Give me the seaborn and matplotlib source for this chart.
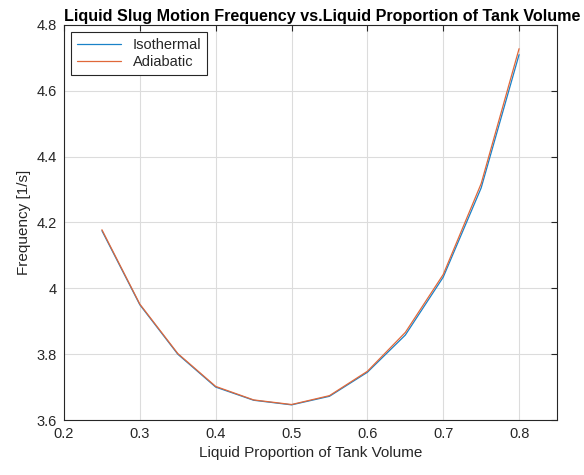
import numpy as np
import pandas as pd
import matplotlib
matplotlib.use("Agg")
import matplotlib.pyplot as plt
import seaborn as sns

liquid_prop = [0.25, 0.30, 0.35, 0.40, 0.45, 0.50, 0.55, 0.60, 0.65, 0.70, 0.75, 0.80]
isothermal = [4.175, 3.95, 3.80, 3.70, 3.66, 3.646, 3.672, 3.745, 3.858, 4.034, 4.305, 4.71]
adiabatic = [4.178, 3.952, 3.802, 3.702, 3.661, 3.647, 3.674, 3.748, 3.866, 4.042, 4.318, 4.728]
series_names = ["Isothermal", "Adiabatic"]
x_ticks = [0.2, 0.3, 0.4, 0.5, 0.6, 0.7, 0.8]
y_ticks = [3.6, 3.8, 4.0, 4.2, 4.4, 4.6, 4.8]
y_tick_labels = ["3.6", "3.8", "4", "4.2", "4.4", "4.6", "4.8"]

df = pd.DataFrame({
    "x": liquid_prop * 2,
    "y": isothermal + adiabatic,
    "series": [series_names[0]] * len(liquid_prop) + [series_names[1]] * len(liquid_prop),
})

sns.set_style("white")
plt.rcParams["font.family"] = ["Liberation Sans", "DejaVu Sans"]

fig = plt.figure(figsize=(5.84, 4.75), dpi=100)
ax = fig.add_axes([64 / 584, 1 - 420 / 475, (557 - 64) / 584, (420 - 25) / 475])

sns.lineplot(data=df, x="x", y="y", hue="series", hue_order=series_names,
             palette=["#1a82c8", "#e0683a"], linewidth=0.9, ax=ax, legend=True)

ax.set_xlim(0.2, 0.85)
ax.set_ylim(3.6, 4.8)
ax.set_xticks(x_ticks)
ax.set_yticks(y_ticks)
ax.set_yticklabels(y_tick_labels)
ax.grid(True, color="#dcdcdc", linewidth=0.8)
ax.tick_params(direction="in", top=True, right=True, length=4, width=0.8,
               labelsize=10.5, colors="#262626", labelcolor="#262626", pad=5)
for s in ax.spines.values():
    s.set_visible(True)
    s.set_color("#262626")
    s.set_linewidth(0.8)

ax.set_xlabel("Liquid Proportion of Tank Volume", fontsize=11, color="#262626")
ax.set_ylabel("Frequency [1/s]", fontsize=11, color="#262626")
ax.set_title("Liquid Slug Motion Frequency vs.Liquid Proportion of Tank Volume",
             fontsize=11.6, fontweight="bold", color="black", pad=3, x=0.523)

leg = ax.legend(loc="upper left", fontsize=10.5, frameon=True, fancybox=False,
                edgecolor="#262626", framealpha=1, borderpad=0.4,
                handlelength=3.0, labelspacing=0.2, borderaxespad=0.5)
leg.get_frame().set_linewidth(0.8)

fig.savefig("out.png", dpi=100)
